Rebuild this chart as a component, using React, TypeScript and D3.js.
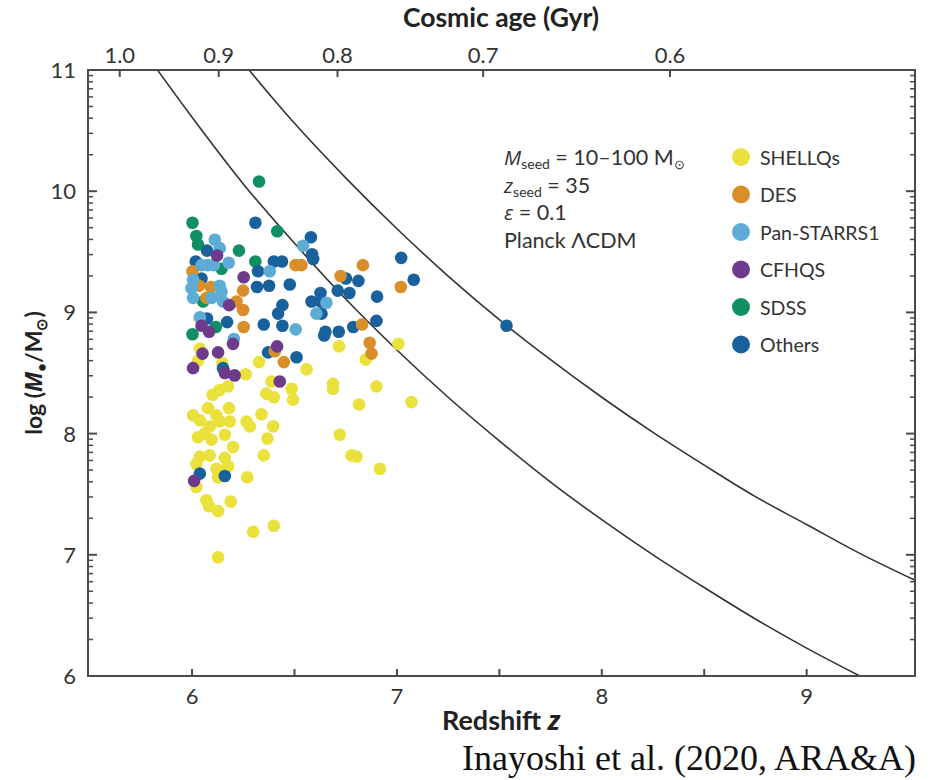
import React from 'react';
import * as d3 from 'd3';

// quasar samples: [redshift z, log(M_BH / Msun)]
const shellqs: [number, number][] = [
  [7.007, 8.74], [6.718, 8.72], [6.848, 8.61], [6.559, 8.53], [6.327, 8.59], [6.038, 8.70],
  [6.029, 8.60], [6.148, 8.58], [6.262, 8.49], [6.388, 8.43], [6.486, 8.37], [6.493, 8.28],
  [6.362, 8.33], [6.399, 8.30], [6.135, 8.36], [6.176, 8.39], [6.688, 8.41], [6.688, 8.37],
  [6.9, 8.39], [6.815, 8.24], [7.071, 8.26], [6.721, 7.99], [6.339, 8.16], [6.396, 8.06],
  [6.368, 7.96], [6.778, 7.82], [6.803, 7.81], [6.917, 7.71], [6.35, 7.82], [6.269, 7.64],
  [6.189, 7.44], [6.07, 7.45], [6.083, 7.40], [6.127, 7.36], [6.298, 7.19], [6.399, 7.24],
  [6.127, 6.98], [6.005, 8.15], [6.038, 8.11], [6.078, 8.21], [6.119, 8.15], [6.086, 8.06],
  [6.135, 8.10], [6.184, 8.10], [6.266, 8.10], [6.282, 8.06], [6.029, 7.97], [6.062, 8.00],
  [6.095, 7.95], [6.16, 7.99], [6.2, 7.89], [6.038, 7.81], [6.086, 7.82], [6.16, 7.80],
  [6.021, 7.75], [6.119, 7.71], [6.176, 7.73], [6.021, 7.56], [6.127, 7.64], [6.18, 8.21],
  [6.10, 8.32],
];
const des: [number, number][] = [
  [6.505, 9.39], [6.534, 9.39], [6.834, 9.39], [6.002, 9.34], [6.725, 9.30], [6.034, 9.22],
  [6.091, 9.21], [6.249, 9.18], [7.019, 9.21], [6.07, 9.12], [6.217, 9.09], [6.249, 9.02],
  [6.252, 8.88], [6.83, 8.90], [6.867, 8.75], [6.876, 8.66], [6.404, 8.68], [6.448, 8.59],
];
const panstarrs: [number, number][] = [
  [6.111, 9.60], [6.135, 9.53], [6.542, 9.55], [6.046, 9.39], [6.077, 9.39], [6.106, 9.39],
  [6.179, 9.41], [6.379, 9.34], [6.005, 9.27], [6.135, 9.22], [5.997, 9.20], [6.144, 9.17],
  [6.005, 9.12], [6.096, 9.12], [6.656, 9.08], [6.607, 8.99], [6.038, 8.96], [6.204, 8.78],
  [6.506, 8.86], [6.151, 9.09],
];
const cfhqs: [number, number][] = [
  [6.122, 9.47], [6.252, 9.29], [6.181, 9.06], [6.046, 8.89], [6.083, 8.84], [6.2, 8.74],
  [6.051, 8.66], [6.127, 8.67], [6.415, 8.72], [6.005, 8.54], [6.16, 8.50], [6.208, 8.48],
  [6.428, 8.43], [6.01, 7.61],
];
const sdss: [number, number][] = [
  [6.327, 10.08], [6.002, 9.74], [6.416, 9.67], [6.021, 9.63], [6.029, 9.56], [6.229, 9.51],
  [6.309, 9.42], [6.144, 9.36], [6.116, 8.88], [6.002, 8.82], [6.054, 9.09],
];
const others: [number, number][] = [
  [6.309, 9.74], [6.58, 9.62], [6.586, 9.48], [6.591, 9.44], [6.073, 9.51], [6.018, 9.42],
  [6.399, 9.42], [6.439, 9.42], [7.021, 9.45], [6.046, 9.28], [6.322, 9.34], [6.751, 9.28],
  [6.812, 9.26], [7.082, 9.27], [6.317, 9.21], [6.376, 9.22], [6.477, 9.23], [6.711, 9.18],
  [6.768, 9.16], [6.903, 9.13], [6.627, 9.16], [6.583, 9.09], [6.627, 9.09], [6.632, 8.99],
  [6.441, 9.06], [6.42, 8.99], [6.073, 8.95], [6.171, 8.92], [6.35, 8.90], [6.441, 8.89],
  [6.651, 8.84], [6.645, 8.81], [6.716, 8.84], [6.787, 8.88], [6.9, 8.93], [7.535, 8.89],
  [6.371, 8.67], [6.51, 8.63], [6.151, 8.54], [6.038, 7.67], [6.16, 7.65],
];

// Eddington-limited growth tracks
const trackLow: [number, number][] = [
  [5.831, 11.0], [6.0, 10.61], [6.25, 10.06], [6.5, 9.57], [6.75, 9.11], [7.0, 8.69],
  [7.25, 8.30], [7.5, 7.94], [7.75, 7.60], [8.0, 7.29], [8.25, 7.0], [8.5, 6.73],
  [8.75, 6.47], [9.0, 6.23], [9.26, 6.0],
];
const trackHigh: [number, number][] = [
  [6.278, 11.0], [6.5, 10.56], [6.75, 10.11], [7.0, 9.69], [7.25, 9.30], [7.5, 8.94],
  [7.75, 8.61], [8.0, 8.30], [8.25, 8.01], [8.5, 7.74], [8.75, 7.48], [9.0, 7.25],
  [9.25, 7.02], [9.529, 6.79],
];

const zTicks = [6, 7, 8, 9];
const zMinorTicks = [6.5, 7.5, 8.5];
const ageLabels = ['1.0', '0.9', '0.8', '0.7', '0.6'];
const ageTickZ = [5.647, 6.13, 6.71, 7.421, 8.333];
const massTicks = [6, 7, 8, 9, 10, 11];

const legendNames = ['SHELLQs', 'DES', 'Pan-STARRS1', 'CFHQS', 'SDSS', 'Others'];
const legendColors = ['#ebe13c', '#da8e2a', '#5cacd6', '#6d3a8c', '#108e64', '#19619d'];

const FONT = "Lato, 'Open Sans', sans-serif";
const ITALIC = "'Open Sans', 'Noto Sans', sans-serif";
const AXIS = '#4a4a4a';

const App = () => {
  const width = 942;
  const height = 780;
  const left = 88;
  const right = 915;
  const top = 70;
  const bottom = 676;

  const x = d3.scaleLinear().domain([5.492, 9.529]).range([left, right]);
  const y = d3.scaleLinear().domain([6, 11]).range([bottom, top]);

  const minorMass: number[] = [];
  massTicks.slice(0, -1).forEach((d) => {
    for (let k = 2; k <= 9; k++) minorMass.push(d + Math.log10(k));
  });

  const line = d3
    .line<[number, number]>()
    .x((d) => x(d[0]))
    .y((d) => y(d[1]))
    .curve(d3.curveMonotoneX);

  const colorOf = (name: string) => legendColors[legendNames.indexOf(name)];
  const drawOrder: [string, [number, number][]][] = [
    ['SHELLQs', shellqs],
    ['SDSS', sdss],
    ['Others', others],
    ['DES', des],
    ['Pan-STARRS1', panstarrs],
    ['CFHQS', cfhqs],
  ];

  return (
    <svg
      width={width}
      height={height}
      style={{ position: 'absolute', left: 0, top: 0, background: '#fff' }}
      fontFamily={FONT}
    >
      <defs>
        <clipPath id="plot-clip">
          <rect x={left} y={top} width={right - left} height={bottom - top} />
        </clipPath>
      </defs>

      {/* growth tracks */}
      <g clipPath="url(#plot-clip)" fill="none" stroke="#333" strokeWidth={1.6}>
        <path d={line(trackLow) || ''} />
        <path d={line(trackHigh) || ''} />
      </g>

      {/* quasars */}
      {drawOrder.map(([name, pts]) => (
        <g key={name} fill={colorOf(name)}>
          {pts.map((d, i) => (
            <circle key={i} cx={x(d[0])} cy={y(d[1])} r={6.3} />
          ))}
        </g>
      ))}

      {/* frame */}
      <rect x={left} y={top} width={right - left} height={bottom - top} fill="none" stroke={AXIS} strokeWidth={2} />

      {/* bottom axis */}
      {zTicks.map((t) => (
        <g key={t}>
          <line x1={x(t)} x2={x(t)} y1={bottom} y2={bottom - 7} stroke={AXIS} strokeWidth={2} />
          <text x={x(t)} y={704} textAnchor="middle" fontSize={22} fill="#333">{t}</text>
        </g>
      ))}
      {zMinorTicks.map((t) => (
        <line key={t} x1={x(t)} x2={x(t)} y1={bottom} y2={bottom - 7} stroke={AXIS} strokeWidth={2} />
      ))}

      {/* top axis: cosmic age */}
      {ageTickZ.map((z, i) => (
        <g key={i}>
          <line x1={x(z)} x2={x(z)} y1={top} y2={top + 7} stroke={AXIS} strokeWidth={2} />
          <text x={x(z)} y={63} textAnchor="middle" fontSize={22} fill="#333">{ageLabels[i]}</text>
        </g>
      ))}

      {/* left and right axes */}
      {massTicks.map((t) => (
        <g key={t}>
          <line x1={left} x2={left + 9} y1={y(t)} y2={y(t)} stroke={AXIS} strokeWidth={2} />
          <line x1={right} x2={right - 9} y1={y(t)} y2={y(t)} stroke={AXIS} strokeWidth={2} />
          <text x={76} y={y(t) + 8} textAnchor="end" fontSize={22} fill="#333">{t}</text>
        </g>
      ))}
      {minorMass.map((t, i) => (
        <g key={i}>
          <line x1={left} x2={left + 5} y1={y(t)} y2={y(t)} stroke={AXIS} strokeWidth={1.5} />
          <line x1={right} x2={right - 5} y1={y(t)} y2={y(t)} stroke={AXIS} strokeWidth={1.5} />
        </g>
      ))}

      {/* axis titles */}
      <text x={501} y={27} textAnchor="middle" fontSize={26.5} fontWeight="bold" fill="#222">
        Cosmic age (Gyr)
      </text>
      <text x={501} y={730} textAnchor="middle" fontSize={27} fontWeight="bold" fill="#222">
        Redshift <tspan fontStyle="italic" fontFamily={ITALIC}>z</tspan>
      </text>
      <text
        transform="translate(42,373) rotate(-90)"
        textAnchor="middle"
        fontSize={23}
        fontWeight="bold"
        fill="#222"
      >
        log (<tspan fontStyle="italic" fontFamily={ITALIC}>M</tspan>
        <tspan fontSize={15} dy={5}>•</tspan>
        <tspan dy={-5}>/M</tspan>
        <tspan fontSize={15} dy={5}>⊙</tspan>
        <tspan dy={-5}>)</tspan>
      </text>

      {/* model annotation */}
      <g fontSize={21.5} fill="#333">
        <text x={504} y={165}>
          <tspan fontStyle="italic" fontFamily={ITALIC} fontSize={20.5}>M</tspan>
          <tspan fontSize={14} dy={4}>seed</tspan>
          <tspan dy={-4}> = 10–100 M</tspan>
          <tspan fontSize={13} dy={4}>⊙</tspan>
        </text>
        <text x={504} y={193}>
          <tspan fontStyle="italic" fontFamily={ITALIC} fontSize={20.5}>z</tspan>
          <tspan fontSize={14} dy={4}>seed</tspan>
          <tspan dy={-4}> = 35</tspan>
        </text>
        <text x={504} y={220}>
          <tspan fontStyle="italic" fontFamily={ITALIC} fontSize={20.5}>ε</tspan> = 0.1
        </text>
        <text x={504} y={248}>Planck ΛCDM</text>
      </g>

      {/* legend */}
      {legendNames.map((name, i) => (
        <g key={name} transform={`translate(741,${157 + i * 37.5})`}>
          <circle r={9} fill={legendColors[i]} />
          <text x={19} y={7.5} fontSize={19.5} fill="#333">{name}</text>
        </g>
      ))}

      <text x={916} y={770} textAnchor="end" fontSize={36} fontFamily="'Liberation Serif', 'DejaVu Serif', serif" fill="#111">
        Inayoshi et al. (2020, ARA&amp;A)
      </text>
    </svg>
  );
};

export default App;
